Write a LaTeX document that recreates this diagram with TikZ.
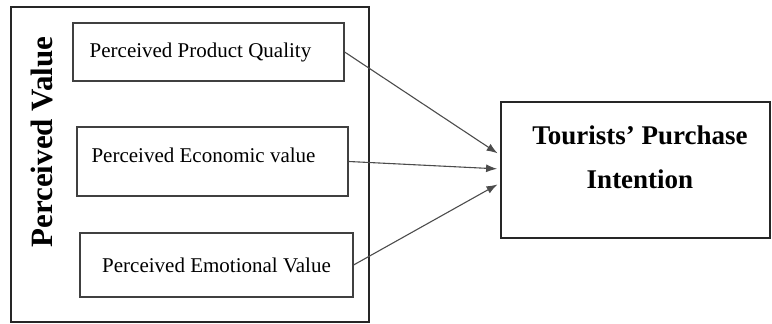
\documentclass[tikz,border=0pt]{standalone}
\usepackage{fontspec}
\setmainfont{Liberation Serif}
\usepackage{tikz}
\usetikzlibrary{arrows.meta,positioning,calc}

\tikzset{
  dimbox/.style={draw=black!75, line width=0.6pt, minimum width=135.5pt, minimum height=30pt, inner sep=0pt, font=\fontsize{10.5}{12}\selectfont},
  bigbox/.style={draw=black!85, line width=0.9pt, inner sep=0pt},
  link/.style={draw=black!70, line width=0.55pt, -{Latex[length=5.5pt,width=4pt]}, shorten >=1.5pt}
}

\begin{document}
\begin{tikzpicture}[x=0.5pt,y=-0.5pt]
\useasboundingbox (0,0) rectangle (772,324);
% outer frame
\node[bigbox, minimum width=179pt, minimum height=157.5pt] (pv) at (190,164.5) {};
\node[rotate=90, font=\fontsize{15.5}{18}\selectfont\bfseries] (pvtext) at (42,142) {Perceived Value};
% dimensions
\node[dimbox, minimum height=29pt] (quality) at (208.5,52) {Perceived Product Quality\hspace*{8pt}};
\node[dimbox, minimum height=34.5pt, text depth=6pt] (economic) at (212.5,161.5) {Perceived Economic value\hspace*{9pt}};
\node[dimbox, minimum width=136.5pt, minimum height=32pt] (emotional) at (216.5,265) {Perceived Emotional Value};
% outcome
\node[bigbox, minimum width=134.5pt, minimum height=68pt] (intention) at (635.5,170) {};
\node[align=center, font=\fontsize{13.5}{22}\selectfont\bfseries] (inttext) at (640,157) {Tourists’ Purchase\\Intention};
% links
\draw[link] (quality.east) -- ([yshift=7.5pt]intention.west);
\draw[link] (economic.east) -- ([yshift=0.5pt]intention.west);
\draw[link] (emotional.east) -- ([yshift=-6.5pt]intention.west);
\end{tikzpicture}
\end{document}
